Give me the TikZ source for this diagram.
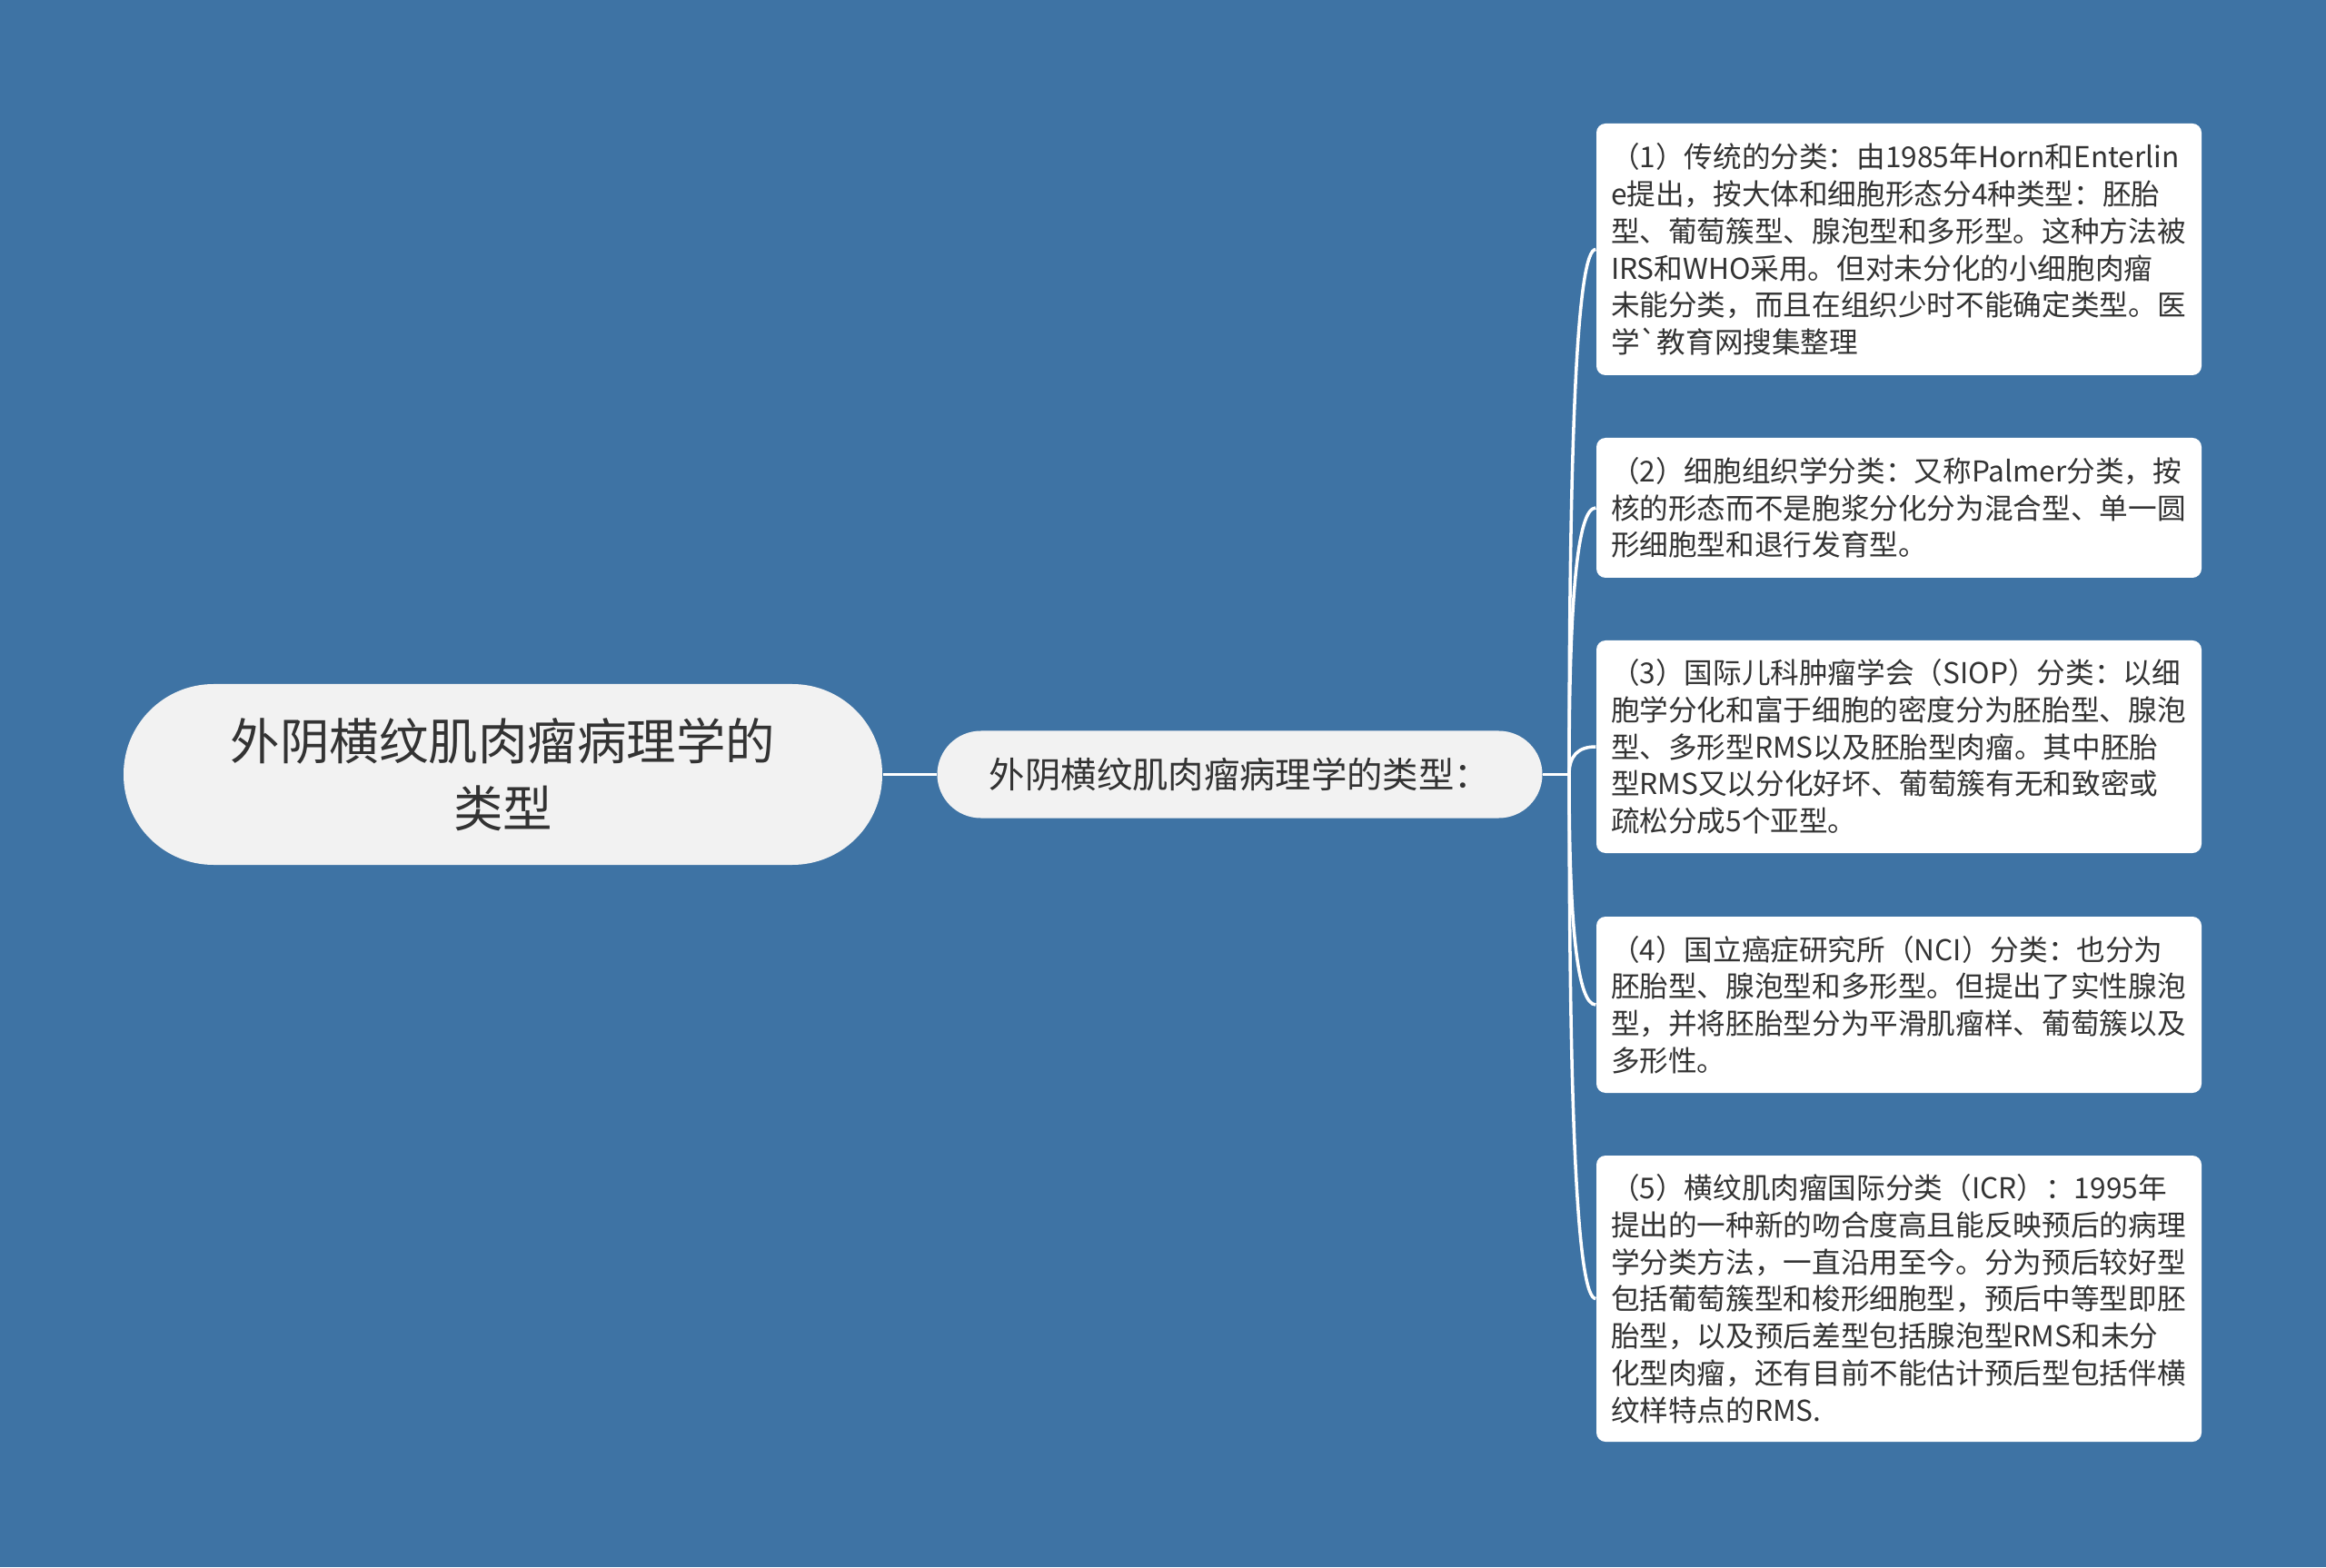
\documentclass[tikz,border=0pt]{standalone}
\usepackage{fontspec}
\setmainfont{Noto Sans CJK SC}[Ligatures=TeXOff]
\usepackage{tikz}

\definecolor{bgblue}{HTML}{3E73A4}
\definecolor{nodegrey}{HTML}{F2F2F2}
\definecolor{txtgrey}{HTML}{333333}

\tikzset{
	topic/.style={fill=nodegrey, text=txtgrey, align=center, inner sep=0pt},
	leaf/.style={fill=white, rounded corners=0.1cm, text=txtgrey, text width=6.34cm, align=left,
		inner xsep=0.16cm, inner ysep=0pt, minimum width=6.66cm, font=\fontsize{9}{11.6}\selectfont},
	branch/.style={draw=white, line width=1pt},
}

\begin{document}
\begin{tikzpicture}
	% Background
	\fill[bgblue] (0,0) rectangle (25.6,17.25);
	\useasboundingbox (0,0) rectangle (25.6,17.25);

	% Main topics
	\node[topic, minimum width=8.35cm, minimum height=1.99cm, rounded corners=0.99cm,
		font=\fontsize{15.5}{21}\selectfont] (root) at (5.535,8.725) {外阴横纹肌肉瘤病理学的\\类型};
	\node[topic, minimum width=6.66cm, minimum height=0.96cm, rounded corners=0.48cm,
		font=\fontsize{11.2}{14}\selectfont] (types) at (13.645,8.725) {外阴横纹肌肉瘤病理学的类型：};
	\coordinate (hub) at (17.27,8.725);

	% Classification boxes
	\node[leaf, minimum height=2.77cm] (c1) at (20.90,14.505) {（1）传统的分类：由1985年Horn和Enterlin\\e提出，按大体和细胞形态分4种类型：胚胎\\型、葡萄簇型、腺泡型和多形型。这种方法被\\IRS和WHO采用。但对未分化的小细胞肉瘤\\未能分类，而且在组织少时不能确定类型。医\\学`教育网搜集整理};
	\node[leaf, minimum height=1.54cm] (c2) at (20.90,11.66) {（2）细胞组织学分类：又称Palmer分类，按\\核的形态而不是胞浆分化分为混合型、单一圆\\形细胞型和退行发育型。};
	\node[leaf, minimum height=2.34cm] (c3) at (20.90,9.03) {（3）国际儿科肿瘤学会（SIOP）分类：以细\\胞学分化和富于细胞的密度分为胚胎型、腺泡\\型、多形型RMS以及胚胎型肉瘤。其中胚胎\\型RMS又以分化好坏、葡萄簇有无和致密或\\疏松分成5个亚型。};
	\node[leaf, minimum height=1.94cm] (c4) at (20.90,6.19) {（4）国立癌症研究所（NCI）分类：也分为\\胚胎型、腺泡型和多形型。但提出了实性腺泡\\型，并将胚胎型分为平滑肌瘤样、葡萄簇以及\\多形性。};
	\node[leaf, minimum height=3.15cm] (c5) at (20.90,2.955) {（5）横纹肌肉瘤国际分类（ICR）：1995年\\提出的一种新的吻合度高且能反映预后的病理\\学分类方法，一直沿用至今。分为预后较好型\\包括葡萄簇型和梭形细胞型，预后中等型即胚\\胎型，以及预后差型包括腺泡型RMS和未分\\化型肉瘤，还有目前不能估计预后型包括伴横\\纹样特点的RMS.};

	% Connectors
	\draw[branch] (root) -- (types);
	\draw[branch] (types) -- (hub);
	\draw[branch] (hub) .. controls +(0,3.85) and +(-0.2,0) .. (c1.west);
	\draw[branch] (hub) .. controls +(0,1.96) and +(-0.2,0) .. (c2.west);
	\draw[branch] (hub) .. controls +(0,0.2) and +(-0.2,0) .. (c3.west);
	\draw[branch] (hub) .. controls +(0,-1.69) and +(-0.2,0) .. (c4.west);
	\draw[branch] (hub) .. controls +(0,-3.85) and +(-0.2,0) .. (c5.west);
\end{tikzpicture}
\end{document}
